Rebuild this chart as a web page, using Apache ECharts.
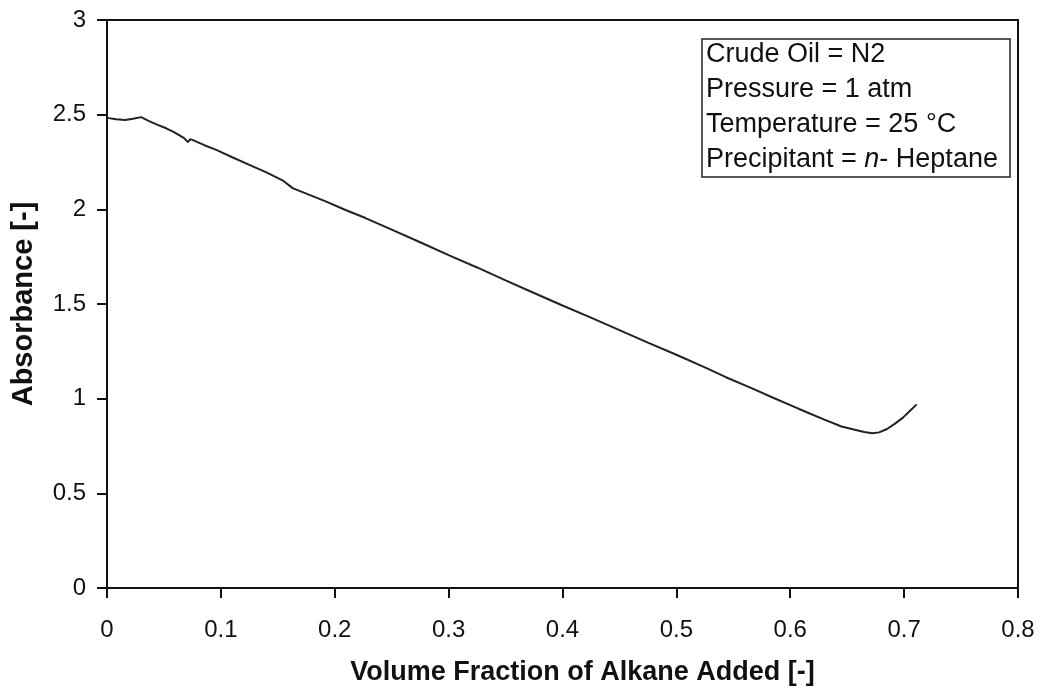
<!DOCTYPE html>
<html>
<head>
<meta charset="utf-8">
<title>Absorbance vs Volume Fraction</title>
<script src="https://cdn.jsdelivr.net/npm/echarts@6/dist/echarts.min.js"></script>
<style>
  html, body { margin: 0; padding: 0; background: #fff; }
  #chart { width: 1043px; height: 691px; }
</style>
</head>
<body>
<div id="chart"></div>
<script>
// volume fraction of alkane added
var volFraction = [
  0, 0.008, 0.016, 0.024, 0.03, 0.037, 0.045, 0.052, 0.058, 0.063, 0.068, 0.071, 0.073, 0.075,
  0.085, 0.096, 0.11, 0.125, 0.14, 0.155, 0.163, 0.175, 0.192, 0.21, 0.227, 0.25,
  0.275, 0.3, 0.325, 0.35, 0.375, 0.4, 0.425, 0.45, 0.475, 0.5, 0.525, 0.544,
  0.565, 0.585, 0.6, 0.615, 0.63, 0.645, 0.655, 0.665, 0.672, 0.678, 0.685,
  0.692, 0.699, 0.705, 0.711
];
// absorbance values
var absorbance = [
  2.483, 2.476, 2.472, 2.48, 2.487, 2.466, 2.445, 2.428, 2.41, 2.393, 2.375, 2.355, 2.37, 2.367,
  2.34, 2.314, 2.275, 2.235, 2.195, 2.15, 2.112, 2.083, 2.042, 1.995, 1.954, 1.893,
  1.826, 1.758, 1.693, 1.625, 1.558, 1.492, 1.428, 1.362, 1.296, 1.232, 1.165, 1.112,
  1.058, 1.005, 0.966, 0.927, 0.889, 0.853, 0.838, 0.824, 0.817, 0.822, 0.84,
  0.868, 0.9, 0.935, 0.97
];
var xTicks = { min: 0, max: 0.8, interval: 0.1 };
var yTicks = { min: 0, max: 3, interval: 0.5 };
var noteLines = ['Crude Oil = N2', 'Pressure = 1 atm', 'Temperature = 25 °C'];

var points = volFraction.map(function (v, i) { return [v, absorbance[i]]; });

var chart = echarts.init(document.getElementById('chart'));
chart.setOption({
  backgroundColor: '#fff',
  animation: false,
  textStyle: { fontFamily: 'Liberation Sans, Arial, sans-serif' },
  title: {
    left: 702,
    top: 35,
    padding: [2, 12, 4, 4],
    borderColor: '#222',
    borderWidth: 1.5,
    backgroundColor: '#fff',
    text: noteLines.map(function (s) { return '{a|' + s + '}'; }).join('\n') +
      '\n{a|Precipitant = }{i|n}{a|- Heptane}',
    textStyle: {
      fontWeight: 'normal',
      rich: {
        a: { fontSize: 27, fontWeight: 'normal', color: '#111', lineHeight: 35, fontFamily: 'Liberation Sans' },
        i: { fontSize: 27, fontWeight: 'normal', color: '#111', lineHeight: 35, fontStyle: 'italic', fontFamily: 'Liberation Sans' }
      }
    }
  },
  grid: {
    left: 107, right: 25, top: 20, bottom: 102,
    show: true, borderColor: '#111', borderWidth: 2
  },
  xAxis: {
    type: 'value',
    min: xTicks.min, max: xTicks.max, interval: xTicks.interval,
    name: 'Volume Fraction of Alkane Added [-]',
    nameLocation: 'middle',
    nameGap: 71,
    nameTextStyle: { fontSize: 27, fontWeight: 'bold', color: '#111', fontFamily: 'Liberation Sans', padding: [0, 0, 0, 40] },
    axisLine: { lineStyle: { color: '#111', width: 2 } },
    axisTick: { inside: false, length: 10, lineStyle: { color: '#111', width: 2 } },
    axisLabel: { fontSize: 24, color: '#111', margin: 30, formatter: function (v) { return +v.toFixed(1) + ''; } },
    splitLine: { show: false }
  },
  yAxis: {
    type: 'value',
    min: yTicks.min, max: yTicks.max, interval: yTicks.interval,
    name: 'Absorbance [-]',
    nameLocation: 'middle',
    nameGap: 69,
    nameRotate: 90,
    nameTextStyle: { fontSize: 29, fontWeight: 'bold', color: '#111', fontFamily: 'Liberation Sans' },
    axisLine: { lineStyle: { color: '#111', width: 2 } },
    axisTick: { inside: false, length: 10, lineStyle: { color: '#111', width: 2 } },
    axisLabel: { fontSize: 24, color: '#111', margin: 21 },
    splitLine: { show: false }
  },
  series: [{
    type: 'line',
    data: points,
    showSymbol: false,
    lineStyle: { color: '#222', width: 2 }
  }]
});
</script>
</body>
</html>
